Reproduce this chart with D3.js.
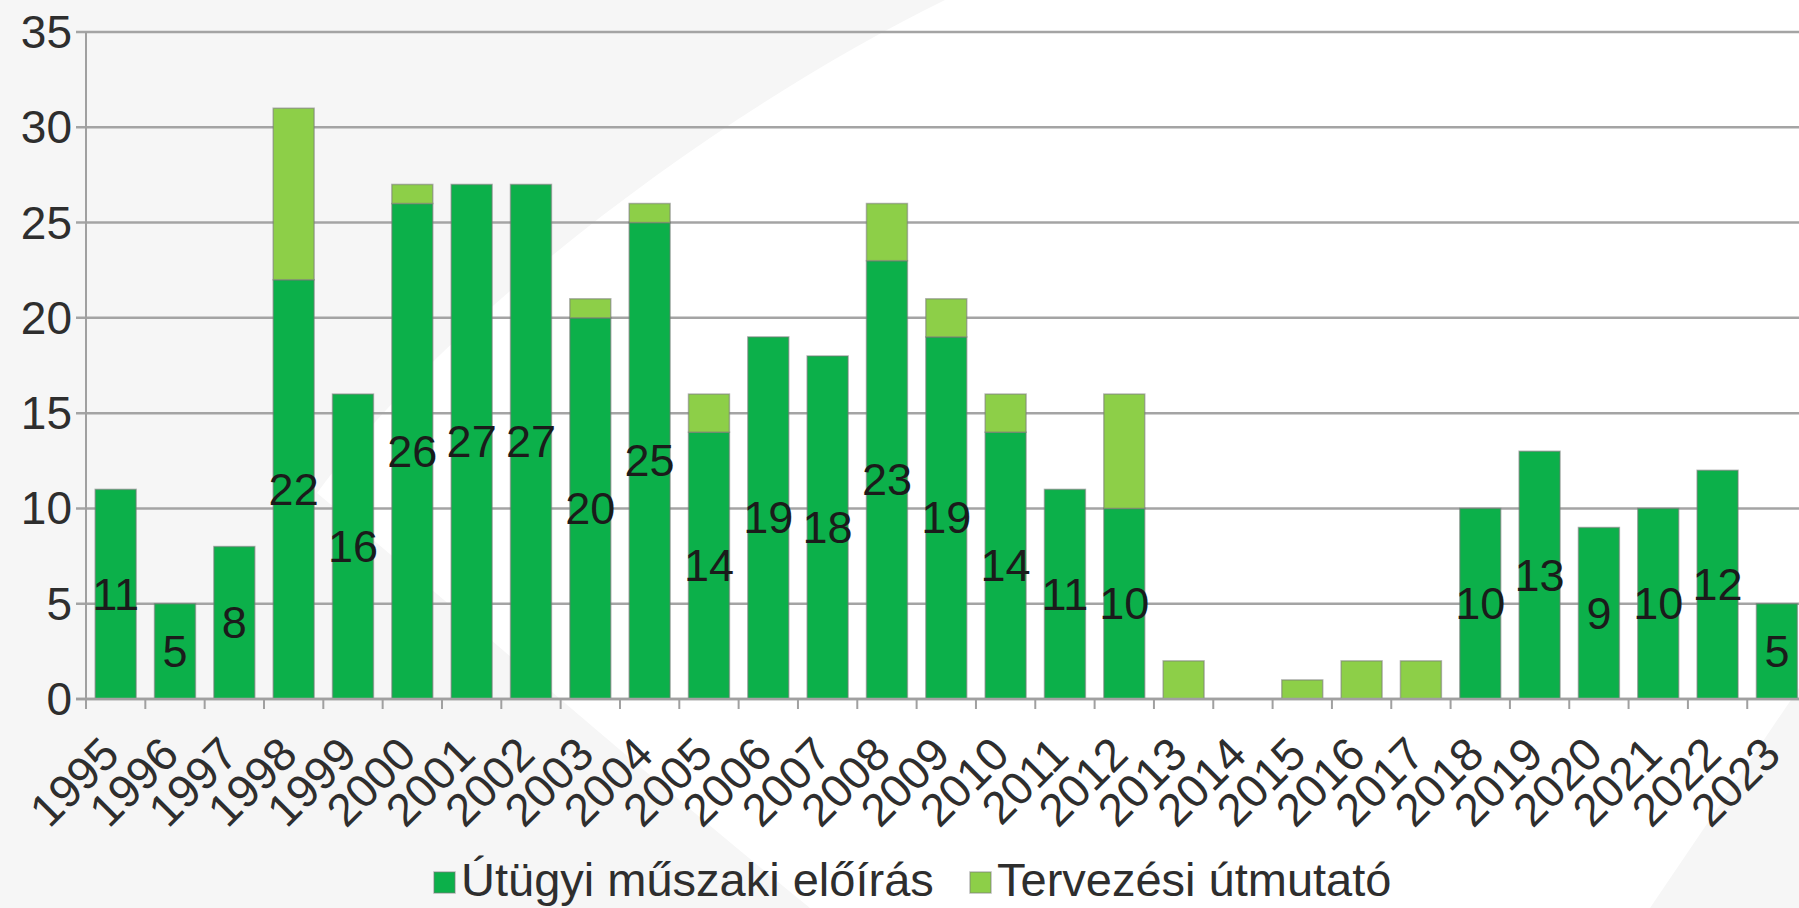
<!DOCTYPE html>
<html>
<head>
<meta charset="utf-8">
<script src="https://cdn.jsdelivr.net/npm/d3@7"></script>
<style>
  html, body { margin: 0; padding: 0; overflow: hidden; background: #f6f6f6; }
  svg { display: block; }
</style>
</head>
<body>
<div id="chart"></div>
<script>
const YEARS = [1995, 1996, 1997, 1998, 1999, 2000, 2001, 2002, 2003, 2004, 2005, 2006, 2007, 2008,
  2009, 2010, 2011, 2012, 2013, 2014, 2015, 2016, 2017, 2018, 2019, 2020, 2021, 2022, 2023];
const UTUGYI = [11, 5, 8, 22, 16, 26, 27, 27, 20, 25, 14, 19, 18, 23,
  19, 14, 11, 10, 0, 0, 0, 0, 0, 10, 13, 9, 10, 12, 5];
const TERVEZESI = [0, 0, 0, 9, 0, 1, 0, 0, 1, 1, 2, 0, 0, 3,
  2, 2, 0, 6, 2, 0, 1, 2, 2, 0, 0, 0, 0, 0, 0];
const Y_TICKS = [0, 5, 10, 15, 20, 25, 30, 35];
const SERIES = ["Útügyi műszaki előírás", "Tervezési útmutató"];
const COLORS = ["#0cb04a", "#8dcf48"];

const W = 1799, H = 908;
const FONT = "'Liberation Sans', Arial, sans-serif";
const STEP = 59.33;
const LEFT = 86;

const svg = d3.select("#chart").append("svg")
  .attr("width", W).attr("height", H);

// background swoosh
svg.append("rect").attr("width", W).attr("height", H).attr("fill", "#f6f6f6");
svg.append("path")
  .attr("d", "M945,0 C740,100 460,300 317,493 C470,620 640,770 810,908 L1650,908 L1799,688 L1799,0 Z")
  .attr("fill", "#ffffff");

const x = d3.scaleBand()
  .domain(YEARS)
  .range([LEFT, LEFT + STEP * YEARS.length])
  .paddingInner(0.31)
  .paddingOuter(0.155);

const y = d3.scaleLinear().domain([0, 35]).range([699, 32]);

// gridlines
svg.append("g").selectAll("line")
  .data(Y_TICKS)
  .join("line")
  .attr("x1", LEFT - 10).attr("x2", W)
  .attr("y1", d => y(d)).attr("y2", d => y(d))
  .attr("stroke", "#a4a4a4")
  .attr("stroke-width", 2.5);

// y axis line
svg.append("line")
  .attr("x1", LEFT).attr("x2", LEFT)
  .attr("y1", y(35)).attr("y2", y(0) + 10)
  .attr("stroke", "#a0a0a0").attr("stroke-width", 2);

// x ticks at band boundaries
svg.append("g").selectAll("line")
  .data(d3.range(YEARS.length + 1))
  .join("line")
  .attr("x1", i => LEFT + i * STEP).attr("x2", i => LEFT + i * STEP)
  .attr("y1", y(0)).attr("y2", y(0) + 10)
  .attr("stroke", "#a0a0a0").attr("stroke-width", 2);

// y tick labels
svg.append("g").selectAll("text")
  .data(Y_TICKS)
  .join("text")
  .attr("x", 72)
  .attr("y", d => y(d))
  .attr("text-anchor", "end")
  .attr("dominant-baseline", "central")
  .attr("font-family", FONT)
  .attr("font-size", "46px")
  .attr("fill", "#2e2e2e")
  .text(d => d);

// stacked bars
const rows = YEARS.map((yr, i) => ({ year: yr, a: UTUGYI[i], b: TERVEZESI[i] }));
const stack = d3.stack().keys(["a", "b"])(rows);

svg.append("g").selectAll("g")
  .data(stack)
  .join("g")
  .attr("fill", (d, i) => COLORS[i])
  .selectAll("rect")
  .data(d => d.filter(s => s[1] - s[0] > 0))
  .join("rect")
  .attr("x", d => x(d.data.year))
  .attr("width", x.bandwidth())
  .attr("y", d => y(d[1]))
  .attr("height", d => y(d[0]) - y(d[1]))
  .attr("stroke", "rgba(120,120,120,0.55)")
  .attr("stroke-width", 1.5);

// x axis baseline
svg.append("line")
  .attr("x1", LEFT - 10).attr("x2", W)
  .attr("y1", y(0)).attr("y2", y(0))
  .attr("stroke", "#a0a0a0").attr("stroke-width", 2.5);

// value labels for the first series
svg.append("g").selectAll("text")
  .data(rows.filter(d => d.a > 0))
  .join("text")
  .attr("x", d => x(d.year) + x.bandwidth() / 2)
  .attr("y", d => y(d.a / 2))
  .attr("text-anchor", "middle")
  .attr("dominant-baseline", "central")
  .attr("font-family", FONT)
  .attr("font-size", "45px")
  .attr("fill", "#1b1b1b")
  .text(d => d.a);

// x labels, rotated
svg.append("g").selectAll("text")
  .data(YEARS)
  .join("text")
  .attr("transform", d => `translate(${x(d) + x.bandwidth() / 2 + 6},757) rotate(-45)`)
  .attr("text-anchor", "end")
  .attr("font-family", FONT)
  .attr("font-size", "46px")
  .attr("fill", "#2e2e2e")
  .text(d => d);

// legend
const legend = svg.append("g");
const legendItems = [{ x: 434, tx: 461 }, { x: 970, tx: 997 }];
legendItems.forEach((it, i) => {
  legend.append("rect")
    .attr("x", it.x).attr("y", 872)
    .attr("width", 21).attr("height", 21)
    .attr("fill", COLORS[i])
    .attr("stroke", "rgba(120,120,120,0.5)")
    .attr("stroke-width", 1.5);
  legend.append("text")
    .attr("x", it.tx).attr("y", 896)
    .attr("font-family", FONT)
    .attr("font-size", "47px")
    .attr("fill", "#2e2e2e")
    .text(SERIES[i]);
});
</script>
</body>
</html>
